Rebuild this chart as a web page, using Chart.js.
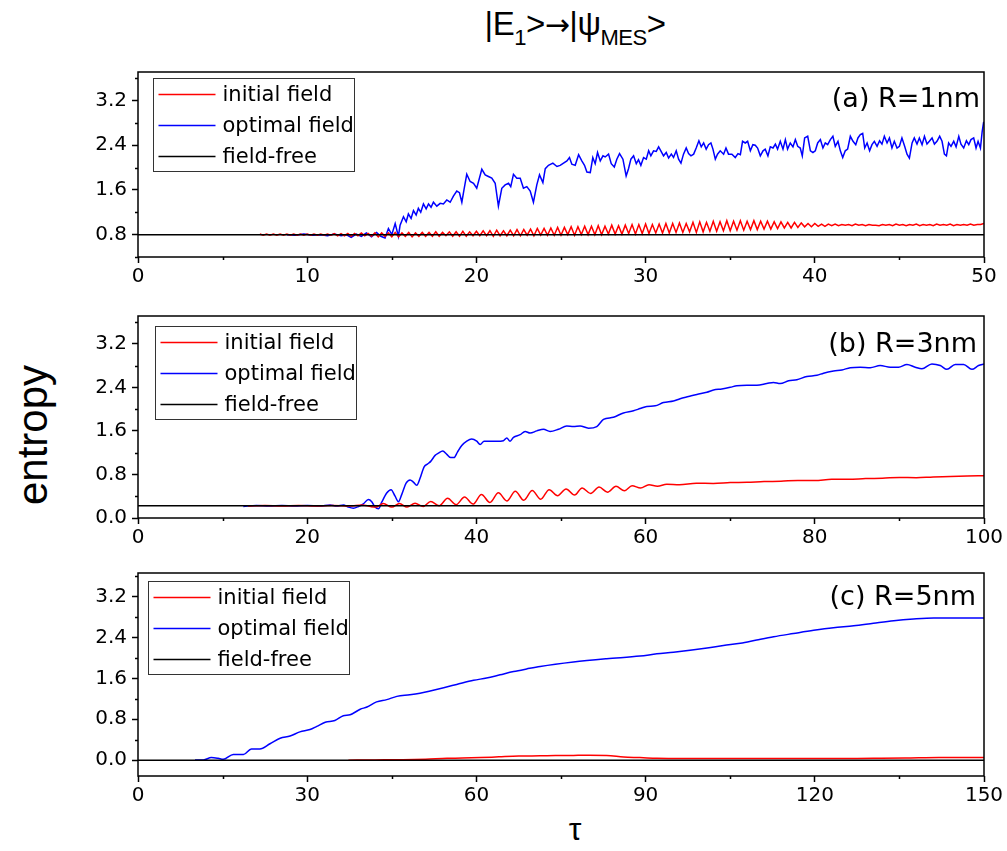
<!DOCTYPE html>
<html>
<head>
<meta charset="utf-8">
<script src="https://cdn.jsdelivr.net/npm/chart.js@4.4.1/dist/chart.umd.min.js"></script>
<style>
  html, body { margin: 0; padding: 0; background: #fff; }
  body { width: 1007px; height: 851px; position: relative; overflow: hidden; font-family: "Liberation Sans", Arial, sans-serif; }
  canvas { position: absolute; left: 0; }
  .txt { position: absolute; color: #000; white-space: nowrap; }
  #title { top: 5px; left: 0; width: 1150px; text-align: center; font-size: 33px; letter-spacing: -0.5px; }
  #title sub { font-size: 22px; vertical-align: -10px; line-height: 0; }
  #title .arr { font-family: "DejaVu Sans", sans-serif; font-size: 30px; }
  #ylab { font-size: 42px; left: 33px; top: 435px; transform: translate(-50%, -50%) rotate(-90deg); }
  #xlab { font-size: 32px; left: 575px; top: 829px; transform: translate(-50%, -50%); }
</style>
</head>
<body>
<div id="title" class="txt">|E<sub>1</sub>&gt;<span class="arr">&rarr;</span>|&psi;<sub>MES</sub>&gt;</div>
<div id="ylab" class="txt">entropy</div>
<div id="xlab" class="txt">τ</div>
<canvas id="cA" width="1007" height="242" style="top:55px"></canvas>
<canvas id="cB" width="1007" height="259" style="top:299px"></canvas>
<canvas id="cC" width="1007" height="260" style="top:556px"></canvas>
<script>
// ---------------- DATA ----------------
const seriesNames = ["initial field", "optimal field", "field-free"];
const panelLabels = ["(a) R=1nm", "(b) R=3nm", "(c) R=5nm"];

// tick positions (labelled ones are multiples of the label step)
const yTicksA = [0.4, 0.8, 1.2, 1.6, 2.0, 2.4, 2.8, 3.2, 3.6];
const yTicksBC = [0.0, 0.4, 0.8, 1.2, 1.6, 2.0, 2.4, 2.8, 3.2, 3.6];
const xTicksA = [0, 5, 10, 15, 20, 25, 30, 35, 40, 45, 50];
const xTicksB = [0, 10, 20, 30, 40, 50, 60, 70, 80, 90, 100];
const xTicksC = [0, 15, 30, 45, 60, 75, 90, 105, 120, 135, 150];

// Panel (a) R=1nm
const tauA_range = [0, 50];
const entA_range = [0.4, 3.71];
const tauA_iniStart = 7.2, tauA_iniStep = 0.2;   // sampling grid of the initial-field trace
const entA_ini = [
  0.81,0.79,0.81,0.79,0.81,0.79,0.81,0.79,0.81,0.79,0.81,0.79,0.81,0.79,0.81,0.79,0.81,0.79,0.81,0.79,0.81,0.79,
  0.82,0.78,0.82,0.78,0.82,0.77,0.82,0.78,0.83,0.78,0.82,0.77,
  0.83,0.76,0.83,0.77,0.83,0.76,0.84,0.76,0.83,0.77,0.84,0.76,0.83,0.77,0.84,
  0.77,0.84,0.77,0.85,0.77,0.84,0.78,0.85,0.77,0.85,0.77,0.86,0.77,0.85,0.78,
  0.86,0.78,0.87,0.78,0.87,0.77,0.88,0.78,0.87,0.78,0.88,0.78,0.89,0.78,0.89,
  0.79,0.90,0.78,0.91,0.79,0.91,0.79,0.92,0.79,0.93,
  0.79,0.93,0.80,0.94,0.79,0.94,0.80,0.95,0.80,0.95,0.80,0.96,0.80,0.95,0.81,
  0.97,0.81,0.96,0.81,0.97,0.82,0.98,0.81,0.98,0.82,0.99,0.82,0.98,0.83,0.99,
  0.83,1.00,0.83,1.00,0.84,1.01,0.84,1.00,0.85,1.02,0.84,1.03,0.85,1.02,0.86,
  1.04,0.86,1.03,0.87,1.05,0.87,1.04,0.88,1.05,0.88,1.04,0.89,1.05,0.89,1.04,
  0.90,1.04,0.90,1.03,0.91,1.03,0.92,1.02,0.92,1.02,
  0.93,1.01,0.94,1.00,0.94,1.00,0.95,0.99,0.95,0.99,
  0.96,0.99,0.96,0.98,0.97,0.98,0.96,0.99,0.97,0.98,0.96,0.98,0.97,0.97,0.96,0.98,
  0.97,0.98,0.96,0.99,0.97,0.98,0.96,0.98,0.97,0.99,0.96,0.98,0.97,0.98,0.96,0.99,
  0.97,0.98,0.97,0.99,0.96,0.98,0.97,0.98,0.97,0.99,0.97,0.98,0.98,1.00
];
const tauA_opt = [8.8,9.3,9.8,10.3,10.8,11.2,11.6,12.0,12.3,12.6,12.9,13.2,13.5,13.8,14.1,14.35,14.6,14.8,15.0,15.2,
  15.39,15.49,15.69,15.85,15.98,16.14,16.28,16.44,16.57,16.71,16.87,17.03,17.17,17.32,17.46,17.66,17.86,18.05,18.25,18.45,
  18.64,18.84,19.0,19.14,19.27,19.43,19.63,19.83,20.02,20.32,20.52,20.71,20.91,21.11,21.3,21.5,21.7,21.9,22.03,22.19,
  22.39,22.59,22.78,22.98,23.18,23.37,23.57,23.73,23.93,24.07,24.26,24.52,24.76,24.95,25.15,25.35,25.5,25.64,25.84,26.04,
  26.23,26.39,26.53,26.73,26.88,27.02,27.16,27.32,27.48,27.61,27.81,27.97,28.15,28.3,28.46,28.66,28.85,28.99,29.13,29.29,
  29.45,29.58,29.72,29.88,30.04,30.18,30.31,30.47,30.63,30.77,30.9,31.06,31.22,31.36,31.52,31.65,31.81,31.95,32.09,32.24,
  32.4,32.54,32.68,32.84,32.99,33.15,33.29,33.43,33.58,33.72,33.86,33.98,34.12,34.25,34.41,34.61,34.75,34.9,35.1,35.3,
  35.46,35.6,35.73,35.89,36.03,36.19,36.34,36.48,36.62,36.78,36.94,37.07,37.23,37.37,37.53,37.67,37.8,37.96,38.12,38.26,
  38.39,38.55,38.71,38.85,38.99,39.14,39.26,39.4,39.58,39.74,39.89,40.03,40.17,40.33,40.48,40.62,40.76,40.92,41.07,41.21,
  41.37,41.51,41.65,41.8,41.94,42.1,42.26,42.42,42.55,42.69,42.83,42.95,43.09,43.24,43.38,43.52,43.68,43.83,43.97,44.11,
  44.27,44.41,44.56,44.7,44.86,45.0,45.15,45.31,45.45,45.59,45.75,45.88,46.04,46.18,46.34,46.48,46.63,46.77,46.93,47.07,
  47.22,47.38,47.52,47.66,47.78,47.91,48.05,48.21,48.35,48.51,48.64,48.8,48.96,49.1,49.23,49.39,49.53,49.65,49.79,49.89,49.98];
const entA_opt = [0.80,0.79,0.81,0.79,0.80,0.78,0.81,0.78,0.80,0.75,0.81,0.77,0.83,0.76,0.84,0.77,0.74,0.91,0.80,1.00,
  0.77,0.97,1.12,1.03,1.17,1.09,1.23,1.15,1.27,1.20,1.35,1.26,1.35,1.29,1.38,1.31,1.36,1.35,1.42,1.38,
  1.49,1.58,1.55,1.38,1.61,1.88,1.75,1.72,1.63,1.97,1.87,1.84,1.81,1.72,1.31,1.63,1.69,1.72,1.66,1.88,
  1.81,1.81,1.63,1.66,1.58,1.38,1.69,1.87,1.73,1.98,2.04,2.08,2.02,2.04,2.08,2.12,2.18,2.06,2.04,2.23,
  2.12,2.04,1.92,1.91,2.18,2.07,2.27,2.12,2.21,2.19,2.24,2.07,2.01,2.15,2.25,2.15,1.85,1.98,2.15,2.21,
  2.07,2.14,2.04,2.18,2.15,2.30,2.21,2.30,2.29,2.37,2.30,2.21,2.27,2.17,2.24,2.18,2.30,2.15,2.08,2.24,
  2.35,2.25,2.21,2.24,2.35,2.48,2.37,2.44,2.33,2.41,2.44,2.33,2.15,2.24,2.30,2.24,2.35,2.24,2.24,2.18,
  2.25,2.23,2.47,2.44,2.47,2.30,2.41,2.40,2.35,2.21,2.30,2.33,2.21,2.37,2.35,2.42,2.33,2.47,2.33,2.50,
  2.33,2.44,2.37,2.50,2.38,2.35,2.21,2.53,2.56,2.30,2.27,2.30,2.44,2.50,2.35,2.44,2.41,2.50,2.56,2.38,
  2.47,2.30,2.18,2.30,2.33,2.56,2.47,2.41,2.53,2.59,2.61,2.35,2.44,2.30,2.41,2.47,2.38,2.48,2.42,2.56,
  2.44,2.53,2.35,2.47,2.35,2.38,2.53,2.38,2.24,2.17,2.44,2.53,2.42,2.53,2.41,2.56,2.42,2.47,2.53,2.42,
  2.47,2.56,2.47,2.24,2.21,2.44,2.38,2.47,2.37,2.56,2.42,2.35,2.48,2.41,2.50,2.53,2.35,2.47,2.35,2.64,2.82];
const tauA_free = [0, 50];
const entA_free = [0.8, 0.8];

// Panel (b) R=3nm
const tauB_range = [0, 100];
const entB_range = [0, 3.71];
const tauB_ini = [13,15,17,19,21,23,25,26.5,27.5,28.1,29.0,30.0,30.9,31.8,32.75,33.7,34.6,35.6,36.6,37.6,38.6,39.6,40.6,41.6,
  42.6,43.6,44.6,45.6,46.6,47.6,48.6,49.6,50.6,51.6,52.5,53.5,54.5,55.5,56.5,57.5,58.4,59.4,60.4,61.4,62.5,64,66,68,70,72,
  74,76,78,80,82,84,86,88,90,92,94,96,98,100];
const entB_ini = [0.22,0.23,0.22,0.23,0.22,0.23,0.22,0.24,0.21,0.20,0.267,0.20,0.265,0.20,0.27,0.21,0.302,0.226,0.362,0.244,
  0.385,0.255,0.433,0.285,0.462,0.314,0.492,0.326,0.503,0.344,0.521,0.41,0.533,0.421,0.551,0.45,0.569,0.474,0.581,0.50,
  0.592,0.55,0.61,0.585,0.62,0.61,0.64,0.635,0.65,0.655,0.67,0.675,0.69,0.69,0.71,0.71,0.725,0.73,0.745,0.74,0.755,0.76,0.77,0.776];
const tauB_opt = [12.45,14,15.5,17,18.5,20,21.5,22.7,23.49,24.28,24.87,25.46,26.05,26.64,27.23,27.63,28.02,28.42,28.81,29.4,
  29.91,30.39,30.78,31.17,31.69,32.16,32.55,32.95,33.34,33.82,34.21,34.6,35.12,35.51,36.02,36.5,36.97,37.36,37.76,38.27,
  38.86,39.45,40.04,40.44,40.91,41.62,42.41,43.2,43.59,43.98,44.38,45.17,45.76,46.35,47.14,47.93,48.71,49.7,50.68,51.47,
  52.26,53.25,54.23,55.02,56.2,57.38,58.57,59.35,60.14,61.13,62.11,63.3,64.08,65.07,66.06,67.24,68.03,69.01,70.0,70.79,
  71.97,73.15,74.33,75.12,75.91,76.9,77.88,79.06,80.25,81.03,82.22,83.2,84.19,85.37,86.55,87.73,88.92,89.9,90.89,91.87,
  92.66,93.84,94.83,95.62,96.6,97.59,98.57,99.36,100];
const entB_opt = [0.21,0.23,0.22,0.23,0.22,0.23,0.22,0.24,0.22,0.24,0.20,0.18,0.21,0.26,0.34,0.30,0.20,0.17,0.29,0.46,
  0.52,0.40,0.30,0.43,0.64,0.70,0.66,0.60,0.73,0.94,0.99,1.04,1.15,1.19,1.23,1.17,1.11,1.11,1.21,1.33,
  1.41,1.45,1.41,1.35,1.41,1.41,1.41,1.42,1.47,1.41,1.48,1.53,1.59,1.56,1.60,1.63,1.59,1.63,1.69,1.68,
  1.69,1.65,1.68,1.81,1.85,1.93,1.97,2.01,2.05,2.06,2.12,2.15,2.19,2.23,2.27,2.31,2.35,2.37,2.40,2.43,
  2.44,2.44,2.47,2.49,2.47,2.52,2.54,2.60,2.62,2.66,2.70,2.72,2.76,2.77,2.76,2.80,2.77,2.77,2.82,2.77,
  2.74,2.83,2.80,2.73,2.82,2.82,2.73,2.80,2.83];
const tauB_free = [0, 100];
const entB_free = [0.225, 0.225];

// Panel (c) R=5nm
const tauC_range = [0, 150];
const entC_range = [-0.31, 3.66];
const tauC_ini = [37.3,42,47,51,54.8,57.5,60.7,64,67.5,71.3,74,77.2,80,83.1,86.1,89,92,96,100.9,106,112,118.6,124,130.4,136,142,146,150];
const entC_ini = [0.0,0.005,0.01,0.02,0.036,0.04,0.05,0.065,0.08,0.085,0.09,0.093,0.095,0.093,0.06,0.05,0.036,0.032,0.03,0.03,0.03,0.03,0.033,0.036,0.04,0.05,0.05,0.05];
const tauC_opt = [10.1,11.6,13.0,14.2,15.1,16.9,18.7,20.1,21.6,23.4,25.2,26.96,28.7,30.5,31.7,33.2,34.9,36.4,37.6,39.4,
  40.6,42.3,44.1,45.9,48.2,50.0,51.8,54.2,56.5,59.5,61.8,64.2,66.6,68.9,71.3,77.2,83.1,89.0,92.0,94.95,
  100.9,103.8,106.8,109.7,112.7,116.2,119.8,123.3,126.9,130.4,134.0,137.5,141.1,145.2,150];
const entC_opt = [0.005,0.005,0.05,0.036,0.017,0.112,0.112,0.22,0.22,0.32,0.427,0.471,0.553,0.598,0.66,0.742,0.774,0.869,0.888,0.995,
  1.039,1.14,1.184,1.247,1.278,1.31,1.354,1.417,1.48,1.562,1.606,1.669,1.732,1.783,1.833,1.921,1.984,2.035,2.079,2.11,
  2.192,2.243,2.287,2.35,2.413,2.476,2.539,2.59,2.627,2.678,2.728,2.76,2.779,2.779,2.779];
const tauC_free = [0, 150];
const entC_free = [0.0, 0.0];

// ---------------- RENDERING ----------------
const TICK_FONT = { family: "'DejaVu Sans', sans-serif", size: 20 };
const COLORS = ["#ff0000", "#0000ff", "#000000"];

function zipXY(xs, ys) { return ys.map((y, i) => ({ x: xs[i], y })); }
function gridXY(start, step, ys) { return ys.map((y, i) => ({ x: start + i * step, y })); }
function isMult(v, m) { return Math.abs(v / m - Math.round(v / m)) < 1e-6; }

const decorPlugin = {
  id: 'decor',
  afterDraw(chart, args, o) {
    const { ctx, chartArea: a } = chart;
    ctx.save();
    // minor ticks (shorter)
    ctx.strokeStyle = '#000';
    ctx.lineWidth = 1.5;
    const xs = chart.scales.x, ys = chart.scales.y;
    ctx.beginPath();
    xs.ticks.forEach(t => {
      if (!isMult(t.value, o.xLab)) {
        const px = Math.round(xs.getPixelForValue(t.value)) + 0.5;
        ctx.moveTo(px, a.bottom); ctx.lineTo(px, a.bottom + 3);
      }
    });
    ys.ticks.forEach(t => {
      if (!isMult(t.value, 0.8)) {
        const py = Math.round(ys.getPixelForValue(t.value)) + 0.5;
        ctx.moveTo(a.left, py); ctx.lineTo(a.left - 3, py);
      }
    });
    ctx.stroke();
    // frame
    ctx.strokeRect(a.left, a.top, a.right - a.left, a.bottom - a.top);
    // legend box
    const bx = Math.round(a.left + o.legendX) + 0.5, by = Math.round(a.top + o.legendY) + 0.5;
    ctx.fillStyle = '#fff';
    ctx.fillRect(bx, by, 201, 93);
    ctx.strokeStyle = '#333';
    ctx.lineWidth = 1;
    ctx.strokeRect(bx, by, 201, 93);
    ctx.font = "21px 'DejaVu Sans', sans-serif";
    ctx.textBaseline = 'middle';
    ctx.textAlign = 'left';
    seriesNames.forEach((name, i) => {
      const y = by + 16 + i * 31;
      ctx.strokeStyle = COLORS[i];
      ctx.lineWidth = 1.5;
      ctx.beginPath();
      ctx.moveTo(bx + 5, y);
      ctx.lineTo(bx + 62, y);
      ctx.stroke();
      ctx.fillStyle = '#000';
      ctx.fillText(name, bx + 69, y + 1);
    });
    // panel label
    ctx.font = "27px 'DejaVu Sans', sans-serif";
    ctx.textAlign = 'right';
    ctx.textBaseline = 'alphabetic';
    ctx.fillStyle = '#000';
    ctx.fillText(o.label, a.right - o.labelRight, a.top + o.labelBase);
    ctx.restore();
  }
};

function makePanel(id, p) {
  const datasets = [
    { label: seriesNames[0], data: p.ini, borderColor: COLORS[0], order: 1 },
    { label: seriesNames[1], data: p.opt, borderColor: COLORS[1], order: 2 },
    { label: seriesNames[2], data: p.free, borderColor: COLORS[2], order: 0 }
  ].map(d => Object.assign(d, { borderWidth: 1.5, pointRadius: 0, fill: false,
       tension: p.smooth ? 0.4 : 0, cubicInterpolationMode: p.smooth ? 'monotone' : 'default' }));
  return new Chart(document.getElementById(id), {
    type: 'line',
    data: { datasets },
    plugins: [decorPlugin],
    options: {
      responsive: false,
      animation: false,
      devicePixelRatio: 1,
      layout: { padding: { left: 0, right: 23, top: 10, bottom: 0 } },
      plugins: {
        legend: { display: false },
        tooltip: { enabled: false },
        decor: { legendX: p.legendX, legendY: p.legendY, label: p.label, labelRight: p.labelRight, labelBase: p.labelBase, xLab: p.xLab }
      },
      scales: {
        x: {
          type: 'linear', min: p.xr[0], max: p.xr[1],
          grid: { display: true, drawOnChartArea: false, drawTicks: true, tickLength: 6, tickWidth: 1.5,
                  tickColor: c => (c.tick && isMult(c.tick.value, p.xLab) ? '#000' : 'rgba(0,0,0,0)') },
          border: { display: false },
          afterBuildTicks: s => { s.ticks = p.xTicks.map(v => ({ value: v })); },
          ticks: {
            autoSkip: false, maxRotation: 0, padding: 2, color: '#000', font: TICK_FONT,
            callback: v => (isMult(v, p.xLab) ? String(Math.round(v)) : '')
          },
          afterFit: s => { s.height = 40; }
        },
        y: {
          type: 'linear', min: p.yr[0], max: p.yr[1],
          grid: { display: true, drawOnChartArea: false, drawTicks: true, tickLength: 6, tickWidth: 1.5,
                  tickColor: c => (c.tick && isMult(c.tick.value, 0.8) ? '#000' : 'rgba(0,0,0,0)') },
          border: { display: false },
          afterBuildTicks: s => { s.ticks = p.yTicks.map(v => ({ value: v })); },
          ticks: {
            autoSkip: false, padding: 5, color: '#000', font: TICK_FONT,
            callback: v => (isMult(v, 0.8) ? (Math.round(v / 0.8) * 0.8).toFixed(1) : '')
          },
          afterFit: s => { s.width = 138; }
        }
      }
    }
  });
}

makePanel('cA', {
  ini: gridXY(tauA_iniStart, tauA_iniStep, entA_ini), opt: zipXY(tauA_opt, entA_opt), free: zipXY(tauA_free, entA_free),
  xr: tauA_range, yr: entA_range, xTicks: xTicksA, yTicks: yTicksA, xLab: 10, label: panelLabels[0], smooth: false,
  legendX: 15, legendY: 6, labelRight: 4, labelBase: 35
});
makePanel('cB', {
  ini: zipXY(tauB_ini, entB_ini), opt: zipXY(tauB_opt, entB_opt), free: zipXY(tauB_free, entB_free),
  xr: tauB_range, yr: entB_range, xTicks: xTicksB, yTicks: yTicksBC, xLab: 20, label: panelLabels[1], smooth: true,
  legendX: 17, legendY: 10, labelRight: 7, labelBase: 36
});
makePanel('cC', {
  ini: zipXY(tauC_ini, entC_ini), opt: zipXY(tauC_opt, entC_opt), free: zipXY(tauC_free, entC_free),
  xr: tauC_range, yr: entC_range, xTicks: xTicksC, yTicks: yTicksBC, xLab: 30, label: panelLabels[2], smooth: true,
  legendX: 10, legendY: 8, labelRight: 8, labelBase: 32
});
</script>
</body>
</html>
